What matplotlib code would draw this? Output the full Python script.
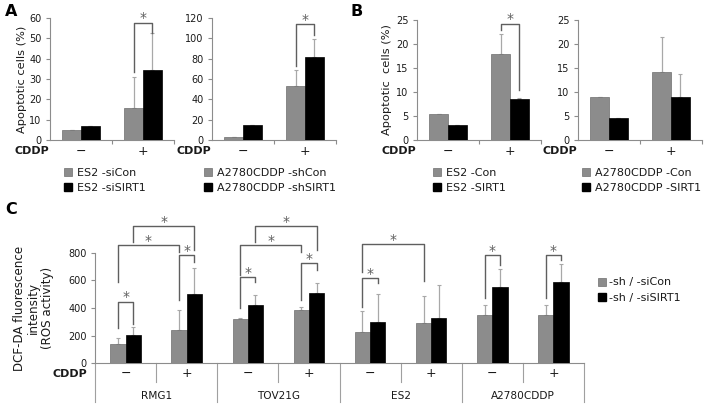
import matplotlib
matplotlib.use("Agg")
import matplotlib.pyplot as plt
from matplotlib.patches import Patch

plt.rcParams['font.family'] = ['DejaVu Sans']

W, H = 705, 405

# ---- data ----
cddp = ['\u2212', '+']

# panel A, ES2 (si)
a1_labels = ['ES2 -siCon', 'ES2 -siSIRT1']
a1_con = [5, 15.5]
a1_con_err = [0, 15.5]
a1_sirt = [7, 34.5]
a1_sirt_err = [0, 18]

# panel A, A2780CDDP (sh)
a2_labels = ['A2780CDDP -shCon', 'A2780CDDP -shSIRT1']
a2_con = [3.3, 53]
a2_con_err = [0, 16]
a2_sirt = [15, 82]
a2_sirt_err = [0, 17]

# panel B, ES2
b1_labels = ['ES2 -Con', 'ES2 -SIRT1']
b1_con = [5.5, 18]
b1_con_err = [0, 4]
b1_sirt = [3.2, 8.6]
b1_sirt_err = [0, 0.2]

# panel B, A2780CDDP
b2_labels = ['A2780CDDP -Con', 'A2780CDDP -SIRT1']
b2_con = [9, 14.2]
b2_con_err = [0, 7.2]
b2_sirt = [4.6, 8.9]
b2_sirt_err = [0, 4.8]

# panel C
c_groups = ['RMG1', 'TOV21G', 'ES2', 'A2780CDDP']
c_labels = ['-sh / -siCon', '-sh / -siSIRT1']
c_con = [140, 241, 320, 386, 224, 289, 349, 349]
c_con_err = [41, 145, 8, 24, 154, 200, 75, 73]
c_sirt = [207, 504, 419, 506, 296, 330, 554, 590]
c_sirt_err = [53, 183, 73, 72, 205, 236, 128, 126]

# significance brackets: (cat_a, series_a, cat_b, series_b, top, foot_a, foot_b)
a1_sig = [(1, 0, 1, 1, 57.6, 33.5, 52.5)]
a2_sig = [(1, 0, 1, 1, 114, 73, 103)]
b1_sig = [(1, 0, 1, 1, 24.2, 22.9, 10.5)]
c_sig = [
    (0, 0, 0, 1, 446, 253, 284),
    (1, 0, 1, 1, 783, 458, 735),
    (0, 0, 1, 0, 855, 590, 807),
    (0, 1, 1, 1, 993, 880, 819),
    (2, 0, 2, 1, 622, 398, 590),
    (3, 0, 3, 1, 723, 458, 675),
    (2, 0, 3, 0, 855, 638, 807),
    (2, 1, 3, 1, 993, 880, 819),
    (4, 0, 4, 1, 614, 410, 578),
    (4, 0, 5, 0, 860, 663, 598),
    (6, 0, 6, 1, 783, 470, 711),
    (7, 0, 7, 1, 783, 470, 747),
]

GRAY = '#8c8c8c'
GRAY_EDGE = '#6e6e6e'
AXIS = '#8c8c8c'
ERR = '#a8a8a8'
SIG = '#5f5f5f'
TXT = '#1a1a1a'


def px_axes(fig, x0, x1, ytop, ybot):
    return fig.add_axes([x0 / W, 1 - ybot / H, (x1 - x0) / W, (ybot - ytop) / H])


def style_axes(ax, ymax, ystep):
    for s in ['top', 'right']:
        ax.spines[s].set_visible(False)
    for s in ['left', 'bottom']:
        ax.spines[s].set_color(AXIS)
        ax.spines[s].set_linewidth(0.8)
    ax.set_ylim(0, ymax)
    ax.set_yticks(list(range(0, ymax + 1, ystep)))
    ax.tick_params(axis='y', length=3, width=0.8, color=AXIS, labelsize=7,
                   labelcolor=TXT, pad=3)
    ax.set_facecolor('none')


def draw_bars(ax, con, con_err, sirt, sirt_err, width):
    x = list(range(len(con)))
    xg = [i - width / 2 for i in x]
    xb = [i + width / 2 for i in x]
    ax.bar(xg, con, width, color=GRAY, edgecolor=GRAY_EDGE, linewidth=0.5, zorder=3)
    ax.bar(xb, sirt, width, color='black', edgecolor='black', linewidth=0.5, zorder=3)
    zeros = [0] * len(con)
    ax.errorbar(xg, con, yerr=[zeros, con_err], fmt='none', ecolor=ERR,
                elinewidth=0.9, capsize=1.2, capthick=0.8, zorder=2)
    ax.errorbar(xb, sirt, yerr=[zeros, sirt_err], fmt='none', ecolor=ERR,
                elinewidth=0.9, capsize=1.2, capthick=0.8, zorder=2)
    ax.set_xlim(-0.5, len(con) - 0.5)


def draw_sig(ax, sig, width, fs=10):
    for ca, sa, cb, sb, top, fa, fb in sig:
        xa = ca + (sa - 0.5) * width
        xb = cb + (sb - 0.5) * width
        ax.plot([xa, xa, xb, xb], [fa, top, top, fb], color=SIG, lw=1.0,
                clip_on=False, zorder=4)
        ax.annotate('*', xy=((xa + xb) / 2, top), xytext=(0, 0.3),
                    textcoords='offset points', ha='center', va='baseline',
                    fontsize=fs, color=SIG, annotation_clip=False)


def small_chart(fig, x0, ymax, ystep, ytop, con, con_err, sirt, sirt_err, sig,
                labels, leg_x, ylabel=None, labelpad=3):
    ax = px_axes(fig, x0, x0 + 124, ytop, 140)
    style_axes(ax, ymax, ystep)
    draw_bars(ax, con, con_err, sirt, sirt_err, 0.3)
    draw_sig(ax, sig, 0.3)
    ax.set_xticks([0.5, 1.5])
    ax.set_xticklabels([])
    ax.set_xticks([0, 1], minor=True)
    ax.set_xticklabels(cddp, minor=True)
    ax.tick_params(axis='x', which='major', length=3, width=0.8, color=AXIS)
    ax.tick_params(axis='x', which='minor', length=0, labelsize=9,
                   labelcolor=TXT, pad=3.5)
    if ylabel:
        ax.set_ylabel(ylabel, fontsize=8.2, color=TXT, labelpad=labelpad)
    fig.text((x0 - 1) / W, 1 - 151 / H, 'CDDP', ha='right', va='center',
             fontsize=8, fontweight='bold', color=TXT)
    handles = [Patch(facecolor=GRAY, edgecolor=GRAY_EDGE, linewidth=0.5),
               Patch(facecolor='black', edgecolor='black')]
    fig.legend(handles, labels, loc='upper left',
               bbox_to_anchor=(leg_x / W, 1 - 167.5 / H), frameon=False,
               fontsize=8, handlelength=0.7, handleheight=0.7,
               handletextpad=0.45, labelspacing=0.45, borderpad=0,
               borderaxespad=0, labelcolor=TXT)
    return ax


fig = plt.figure(figsize=(W / 100, H / 100), dpi=100)

# panel A
small_chart(fig, 50, 60, 10, 18, a1_con, a1_con_err, a1_sirt, a1_sirt_err,
            a1_sig, a1_labels, 64, ylabel='Apoptotic cells (%)', labelpad=2)
small_chart(fig, 212, 120, 20, 18, a2_con, a2_con_err, a2_sirt, a2_sirt_err,
            a2_sig, a2_labels, 204)
# panel B
small_chart(fig, 417, 25, 5, 20, b1_con, b1_con_err, b1_sirt, b1_sirt_err,
            b1_sig, b1_labels, 433, ylabel='Apoptotic  cells (%)', labelpad=3)
small_chart(fig, 578, 25, 5, 20, b2_con, b2_con_err, b2_sirt, b2_sirt_err,
            [], b2_labels, 582)

# panel C
axc = px_axes(fig, 95, 584, 252.7, 363.3)
style_axes(axc, 800, 200)
draw_bars(axc, c_con, c_con_err, c_sirt, c_sirt_err, 0.25)
draw_sig(axc, c_sig, 0.25)
axc.set_xticks([])
axc.set_xticks(range(8), minor=True)
axc.set_xticklabels(cddp * 4, minor=True)
axc.tick_params(axis='x', which='minor', length=0, labelsize=9,
                labelcolor=TXT, pad=2.5)
axc_h = 363.3 - 252.7
tr = axc.get_xaxis_transform()
for i in range(9):
    xs = i - 0.5
    depth = 39 if i % 2 == 0 else 19
    axc.plot([xs, xs], [0, -depth / axc_h], color='#a0a0a0', lw=0.8,
             transform=tr, clip_on=False)
for g, name in enumerate(c_groups):
    axc.text(2 * g + 0.5, -32.5 / axc_h, name, transform=tr, ha='center',
             va='center', fontsize=7.6, color=TXT)
axc.set_ylabel('DCF-DA fluorescence\nintensity\n(ROS activity)', fontsize=8.6,
               color=TXT, labelpad=10, linespacing=1.1)
fig.text(87 / W, 1 - 374 / H, 'CDDP', ha='right', va='center', fontsize=8,
         fontweight='bold', color=TXT)
c_handles = [Patch(facecolor=GRAY, edgecolor=GRAY_EDGE, linewidth=0.5),
             Patch(facecolor='black', edgecolor='black')]
fig.legend(c_handles, c_labels, loc='upper left',
           bbox_to_anchor=(598 / W, 1 - 277.5 / H), frameon=False, fontsize=8,
           handlelength=0.7, handleheight=0.7, handletextpad=0.3,
           labelspacing=0.45, borderpad=0, borderaxespad=0, labelcolor=TXT)

# panel letters
for letter, x, y in [('A', 5, 12), ('B', 351, 12), ('C', 5, 210)]:
    fig.text(x / W, 1 - y / H, letter, ha='left', va='center', fontsize=11.5,
             fontweight='bold', color='black')

fig.savefig('out.png', dpi=100)
